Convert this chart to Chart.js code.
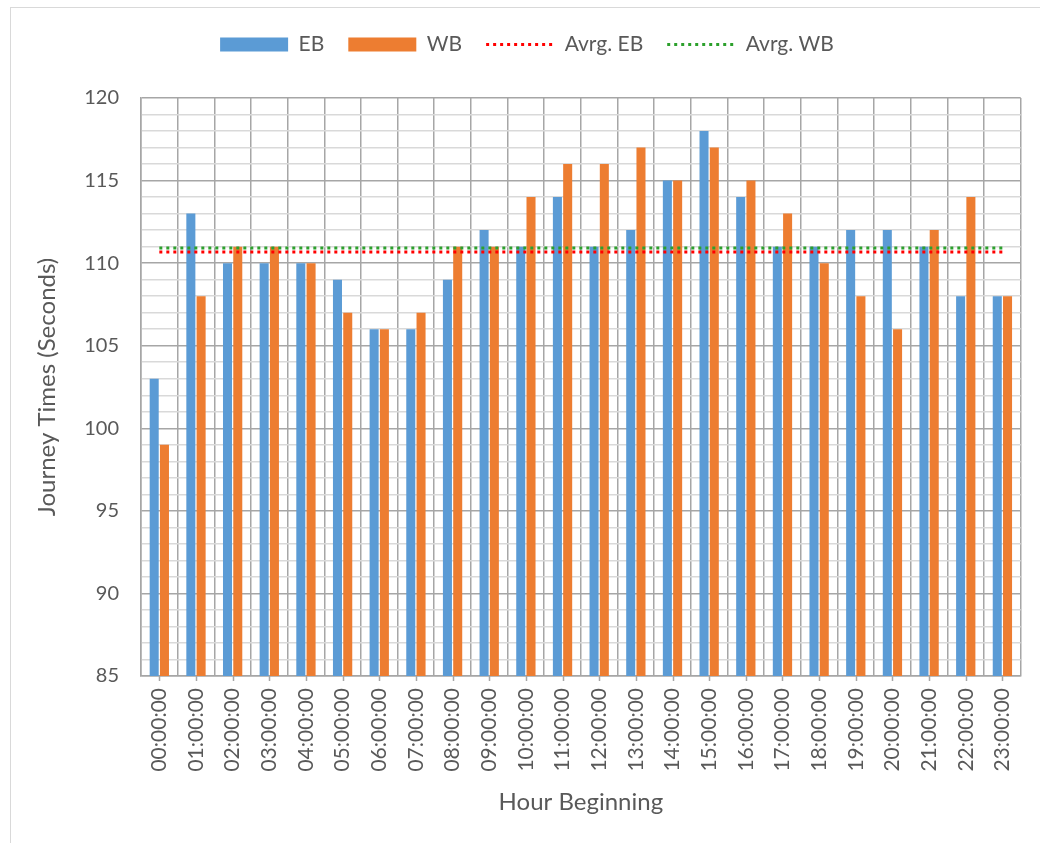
<!DOCTYPE html>
<html>
<head>
<meta charset="utf-8">
<script src="https://cdn.jsdelivr.net/npm/chart.js@4"></script>
<style>
  html, body { margin: 0; padding: 0; background: #fff; }
  #wrap { width: 1040px; height: 843px; position: relative; }
</style>
</head>
<body>
<div id="wrap"><canvas id="journeyChart"></canvas></div>
<script>
const hours = ['00:00:00', '01:00:00', '02:00:00', '03:00:00', '04:00:00', '05:00:00',
    '06:00:00', '07:00:00', '08:00:00', '09:00:00', '10:00:00', '11:00:00',
    '12:00:00', '13:00:00', '14:00:00', '15:00:00', '16:00:00', '17:00:00',
    '18:00:00', '19:00:00', '20:00:00', '21:00:00', '22:00:00', '23:00:00'];
const eb = [103, 113, 110, 110, 110, 109, 106, 106, 109, 112, 111, 114,
    111, 112, 115, 118, 114, 111, 111, 112, 112, 111, 108, 108];
const wb = [99, 108, 111, 111, 110, 107, 106, 107, 111, 111, 114, 116,
    116, 117, 115, 117, 115, 113, 110, 108, 106, 112, 114, 108];
const avgEB = 110.67;
const avgWB = 110.92;

const textColor = '#595959';
const fontFamily = 'Lato, "Open Sans", sans-serif';
const dots = [3, 4];

// light frame round the chart and small tick marks at category centres
const framePlugin = {
    id: 'frame',
    beforeInit(chart) {
        const fit = chart.legend.fit;
        chart.legend.fit = function () {
            fit.bind(chart.legend)();
            this.height += 33;
        };
    },
    beforeDraw(chart) {
        const ctx = chart.ctx;
        ctx.save();
        ctx.strokeStyle = '#d9d9d9';
        ctx.lineWidth = 1;
        ctx.strokeRect(10.5, 7.5, 1200, 1000);
        ctx.restore();
    },
    afterDraw(chart) {
        const ctx = chart.ctx;
        const x = chart.scales.x;
        const bottom = chart.chartArea.bottom;
        ctx.save();
        ctx.strokeStyle = '#a6a6a6';
        ctx.lineWidth = 1.5;
        hours.forEach((h, i) => {
            const px = Math.round(x.getPixelForValue(i)) + 0.5;
            ctx.beginPath();
            ctx.moveTo(px, bottom);
            ctx.lineTo(px, bottom + 5);
            ctx.stroke();
        });
        ctx.restore();
    }
};

const ctx = document.getElementById('journeyChart').getContext('2d');
new Chart(ctx, {
    type: 'bar',
    data: {
        labels: hours,
        datasets: [{
            label: 'EB',
            data: eb,
            backgroundColor: '#5B9BD5',
            pointStyle: 'rect',
            order: 1,
            barPercentage: 0.88,
            categoryPercentage: 0.56
        }, {
            label: 'WB',
            data: wb,
            backgroundColor: '#ED7D31',
            pointStyle: 'rect',
            order: 1,
            barPercentage: 0.88,
            categoryPercentage: 0.56
        }, {
            type: 'line',
            label: 'Avrg. EB',
            data: hours.map(() => avgEB),
            borderColor: '#FF0000',
            backgroundColor: '#FF0000',
            borderWidth: 3,
            borderDash: dots,
            pointRadius: 0,
            pointStyle: 'line',
            order: 0
        }, {
            type: 'line',
            label: 'Avrg. WB',
            data: hours.map(() => avgWB),
            borderColor: '#2CA02C',
            backgroundColor: '#2CA02C',
            borderWidth: 3,
            borderDash: dots,
            pointRadius: 0,
            pointStyle: 'line',
            order: 0
        }]
    },
    plugins: [framePlugin],
    options: {
        responsive: true,
        maintainAspectRatio: false,
        animation: false,
        layout: {
            padding: { left: 33, right: 19, top: 10, bottom: 26 }
        },
        plugins: {
            tooltip: { enabled: false },
            legend: {
                position: 'top',
                labels: {
                    usePointStyle: true,
                    pointStyleWidth: 68,
                    boxWidth: 68,
                    boxHeight: 14,
                    padding: 24,
                    color: textColor,
                    font: { family: fontFamily, size: 21 },
                    sort: (a, b) => a.datasetIndex - b.datasetIndex,
                    generateLabels(chart) {
                        const items = Chart.defaults.plugins.legend.labels.generateLabels(chart);
                        items.forEach(it => {
                            if (it.pointStyle === 'line') it.lineDash = dots;
                        });
                        return items;
                    }
                }
            }
        },
        scales: {
            x: {
                offset: true,
                grid: {
                    offset: true,
                    color: '#a6a6a6',
                    lineWidth: 1.5,
                    drawTicks: false
                },
                border: { color: '#a6a6a6', width: 1.5 },
                ticks: {
                    minRotation: 90,
                    maxRotation: 90,
                    autoSkip: false,
                    padding: 12,
                    color: textColor,
                    font: { family: fontFamily, size: 21 }
                },
                title: {
                    display: true,
                    text: 'Hour Beginning',
                    color: textColor,
                    font: { family: fontFamily, size: 24 },
                    padding: { top: 8, bottom: 0 }
                },
                afterFit(scale) { scale.height = 141; }
            },
            y: {
                min: 85,
                max: 120,
                grid: {
                    color: c => (c.tick && c.tick.value % 5 === 0) ? '#a6a6a6' : '#d9d9d9',
                    lineWidth: 1.5,
                    drawTicks: false
                },
                border: { color: '#a6a6a6', width: 1.5 },
                ticks: {
                    stepSize: 1,
                    autoSkip: false,
                    padding: 22,
                    color: textColor,
                    font: { family: fontFamily, size: 20 },
                    callback: v => (v % 5 === 0 ? v : '')
                },
                title: {
                    display: true,
                    text: 'Journey Times (Seconds)',
                    color: textColor,
                    font: { family: fontFamily, size: 24 },
                    padding: { top: 0, bottom: 4 }
                },
                afterFit(scale) { scale.width = 108; }
            }
        }
    }
});
</script>
</body>
</html>
